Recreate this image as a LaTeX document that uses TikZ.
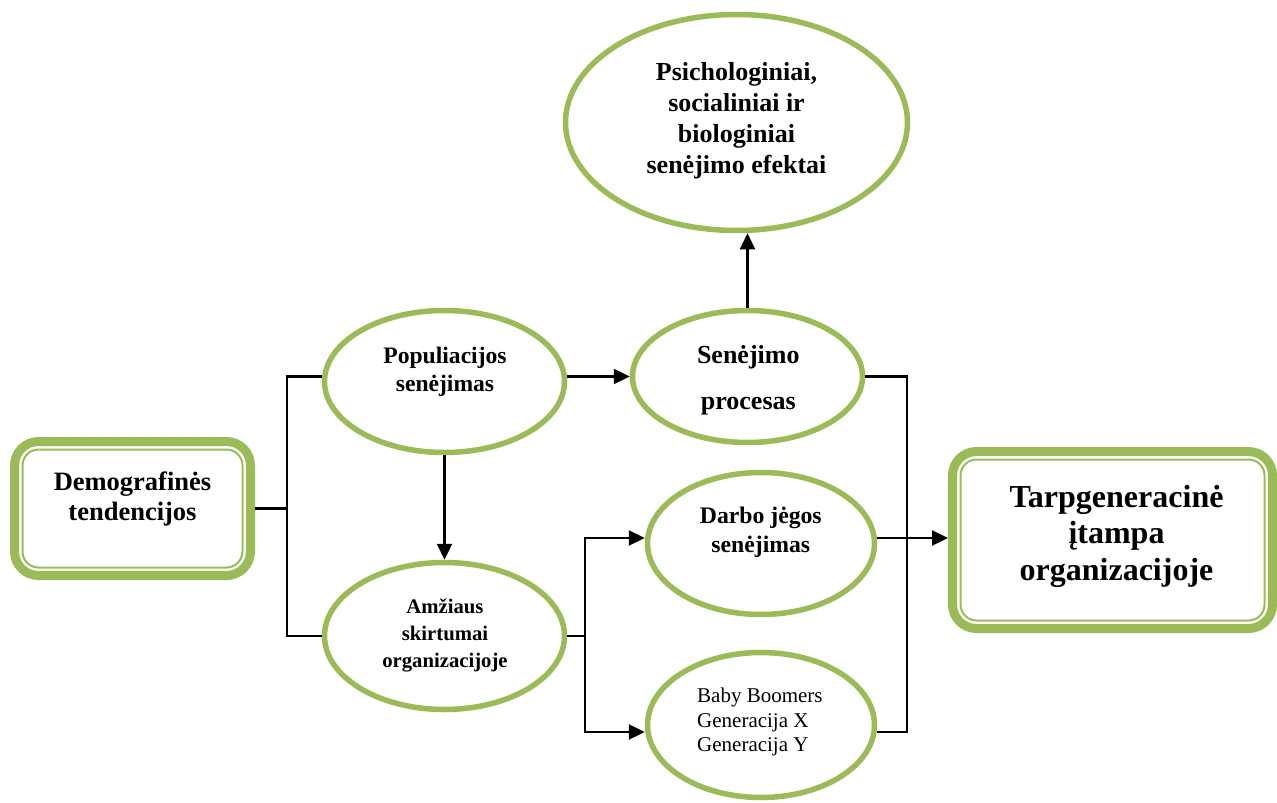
\documentclass[tikz,border=0pt]{standalone}
\usepackage{fontspec}
\setmainfont{Liberation Serif}
\usetikzlibrary{arrows.meta,positioning,shapes.geometric,calc}
\definecolor{LeafGreen}{RGB}{155,187,89}
\tikzset{
  bubble/.style={draw=LeafGreen,ellipse,line width=5.5pt,inner sep=0pt},
  frame/.style={draw=LeafGreen,rounded corners=24pt,line width=9pt,inner sep=0pt},
  innerframe/.style={draw=LeafGreen,rounded corners=16pt,line width=2pt,inner sep=0pt},
  txt/.style={font=\bfseries,align=center,inner sep=0pt},
  link/.style={line width=2.2pt,black},
  arrow/.style={-{Triangle[length=16pt,width=15pt]},line width=2.2pt,black}
}

\begin{document}
\begin{tikzpicture}[x=1pt,y=-1pt]
  \useasboundingbox (0,0) rectangle (1277,803);

  % boxes
  \node[frame,minimum width=236pt,minimum height=134pt] (demo) at (132.5,508.5) {};
  \node[innerframe,minimum width=220pt,minimum height=118pt] (demoin) at (demo) {};
  \node[frame,minimum width=320pt,minimum height=177pt] (tarp) at (1112.5,540) {};
  \node[innerframe,minimum width=304pt,minimum height=161pt] (tarpin) at (tarp) {};

  % ellipses
  \node[bubble,minimum width=342pt,minimum height=216pt] (psy) at (736.5,122.5) {};
  \node[bubble,minimum width=240pt,minimum height=142pt] (pop) at (444.5,381.5) {};
  \node[bubble,minimum width=240pt,minimum height=147pt] (amz) at (444.5,636) {};
  \node[bubble,minimum width=230pt,minimum height=132pt] (sen) at (747.5,376.5) {};
  \node[bubble,minimum width=227pt,minimum height=142pt] (drb) at (761,543.5) {};
  \node[bubble,minimum width=227pt,minimum height=145pt] (bb) at (761,725) {};

  % texts
  \node[txt,font=\bfseries\fontsize{26.5}{30}\selectfont] (demotxt) at (132.5,499)
    {Demografinės\\tendencijos};
  \node[txt,font=\bfseries\fontsize{32}{36.5}\selectfont] (tarptxt) at (1116.5,536)
    {Tarpgeneracinė\\įtampa\\organizacijoje};
  \node[txt,font=\bfseries\fontsize{26}{31}\selectfont] (psytxt) at (736.5,120.5)
    {Psichologiniai,\\socialiniai ir\\biologiniai\\senėjimo efektai};
  \node[txt,font=\bfseries\fontsize{23.6}{28}\selectfont] (poptxt) at (445,371.5)
    {Populiacijos\\senėjimas};
  \node[txt,font=\bfseries\fontsize{26}{46}\selectfont] (sentxt) at (748.3,380)
    {Senėjimo\\procesas};
  \node[txt,font=\bfseries\fontsize{23.7}{29}\selectfont] (drbtxt) at (760.8,532)
    {Darbo jėgos\\senėjimas};
  \node[txt,font=\bfseries\fontsize{20.7}{27}\selectfont] (amztxt) at (445,635.5)
    {Amžiaus\\skirtumai\\organizacijoje};
  \node[inner sep=0pt,align=left,anchor=west,font=\fontsize{21}{24.5}\selectfont] (bbtxt)
    at (697,722) {Baby Boomers\\Generacija X\\Generacija Y};

  % connectors
  \coordinate (jl) at (287,508.5);
  \coordinate (jm) at (585,636);
  \coordinate (jr) at (907,376.5);

  \draw[link] (demo.east) -- (jl);
  \draw[link] ([yshift=5pt]pop.west) -| (jl) |- (amz.west);
  \draw[arrow] (pop.south) -- (amz.north);
  \draw[arrow] (pop.east |- sen.west) -- (sen.west);
  \draw[arrow] (sen.north) -- (sen.north |- psy.south);
  \draw[link] (amz.east) -- (jm);
  \draw[arrow] (jm) |- ([yshift=5.5pt]drb.west);
  \draw[arrow] (jm) |- ([yshift=-7pt]bb.west);
  \draw[link] (sen.east) -- (jr) |- ([yshift=-7pt]bb.east);
  \draw[arrow] ([yshift=5.5pt]drb.east) -- ([yshift=5.5pt]drb.east -| tarp.west);
\end{tikzpicture}
\end{document}
